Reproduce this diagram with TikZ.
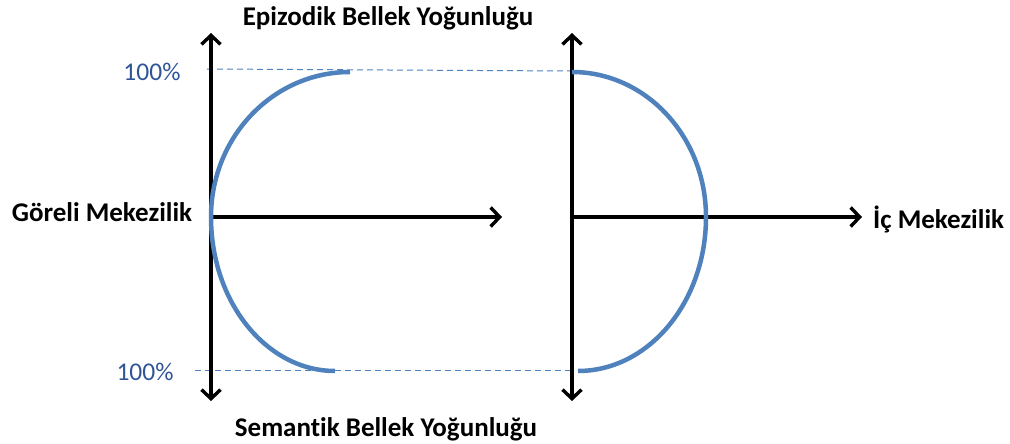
\documentclass[tikz,border=0pt]{standalone}
\usepackage{fontspec}
\setmainfont[Ligatures={NoCommon}]{Carlito}
\usetikzlibrary{arrows.meta}
\definecolor{curveblue}{HTML}{4F81BD}
\definecolor{labelblue}{HTML}{2F5597}
\tikzset{
  axis/.style={line width=3.4pt, -{Straight Barb[length=9pt,width=19pt,line width=3.4pt]}},
  curve/.style={line width=4.5pt, curveblue},
  guide/.style={line width=1pt, curveblue, dash pattern=on 6pt off 4pt},
  title/.style={font=\fontsize{27}{31}\selectfont\bfseries, inner sep=0pt},
  pct/.style={font=\fontsize{25.5}{30}\selectfont, text=labelblue, inner sep=0pt}
}
\begin{document}
\begin{tikzpicture}[x=1pt,y=-1pt]
\useasboundingbox (0,0) rectangle (1010,444);
% coordinates
\coordinate (L0) at (211,217);
\coordinate (Ltop) at (211,33);
\coordinate (Lbot) at (211,401);
\coordinate (Lright) at (502,217);
\coordinate (R0) at (572,217);
\coordinate (Rtop) at (572,33);
\coordinate (Rbot) at (572,401);
\coordinate (Rright) at (862,217);
\coordinate (gt1) at (207,69);
\coordinate (gt2) at (570,71);
\coordinate (gb1) at (195,370);
\coordinate (gb2) at (572,370);
% guides
\draw[guide] (gt1) -- (gt2);
\draw[guide] (gb1) -- (gb2);
% axes
\draw[axis] (L0) -- (Ltop);
\draw[axis] (L0) -- (Lbot);
\draw[axis] (L0) -- (Lright);
\draw[axis] (R0) -- (Rtop);
\draw[axis] (R0) -- (Rbot);
\draw[axis] (R0) -- (Rright);
% curves
\draw[curve] (350,72) arc[start angle=-90, end angle=-180, x radius=139, y radius=145]
  arc[start angle=180, end angle=90, x radius=124, y radius=154];
\draw[curve] (572,72) arc[start angle=-90, end angle=0, x radius=134, y radius=145]
  arc[start angle=0, end angle=90, x radius=128, y radius=154];
% labels
\node[title] (epi) at (388,18) {Epizodik Bellek Yoğunluğu};
\node[title] (sem) at (386,429) {Semantik Bellek Yoğunluğu};
\node[title] (gor) at (102,212) {Göreli Mekezilik};
\node[title, anchor=west] (ic) at (873,219) {İç Mekezilik};
\node[pct] (p1) at (152,72) {100\%};
\node[pct] (p2) at (145,372) {100\%};
\end{tikzpicture}
\end{document}
